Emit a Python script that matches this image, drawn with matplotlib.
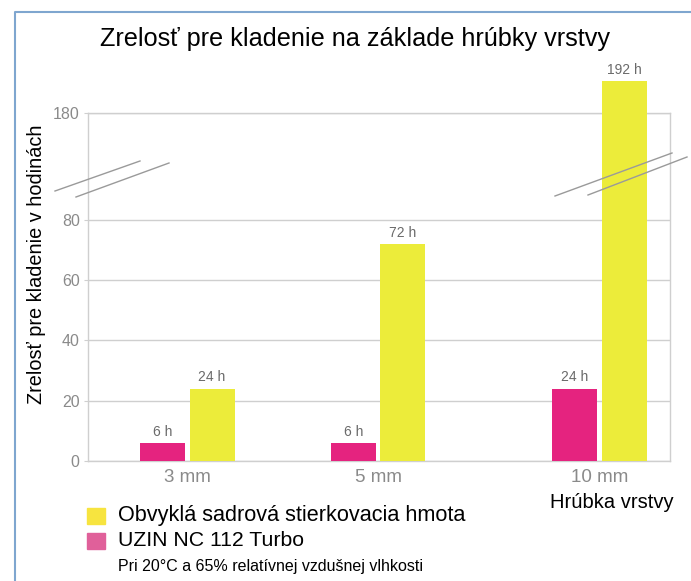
import numpy as np
import matplotlib.pyplot as plt
from matplotlib.patches import Rectangle

plt.rcParams['font.family'] = ['Liberation Sans', 'DejaVu Sans']

# data
categories = ["3 mm", "5 mm", "10 mm"]
uzin_hours = [6, 6, 24]
common_hours = [24, 72, 192]
yticks = [0, 20, 40, 60, 80, 180]

GRAY = "#8a8a8a"
GRID = "#cfcfcf"
YELLOW = "#ecec3a"
MAGENTA = "#e5237f"


# broken axis: 0-80 linear, 80-180 squeezed, above 180 a bit compressed
def fwd(v):
    v = np.asarray(v, dtype=float)
    return np.where(v <= 80, v,
                    np.where(v <= 180, 80 + (v - 80) * 0.353,
                             115.3 + (v - 180) * 0.89))


def inv(d):
    d = np.asarray(d, dtype=float)
    return np.where(d <= 80, d,
                    np.where(d <= 115.3, 80 + (d - 80) / 0.353,
                             180 + (d - 115.3) / 0.89))


fig = plt.figure(figsize=(6.91, 5.81), dpi=100)
ax = fig.add_axes([88 / 691, 120 / 581, 582 / 691, 348 / 581])
ax.set_yscale('function', functions=(fwd, inv))
ax.set_ylim(0, 180)

x = np.array([0, 1, 2.16])
w = 0.236
b1 = ax.bar(x - 0.13, uzin_hours, w, color=MAGENTA, clip_on=False, zorder=3)
b2 = ax.bar(x + 0.13, common_hours, w, color=YELLOW, clip_on=False, zorder=3)
ax.set_xlim(-0.52, 2.53)

for bars, vals in [(b1, uzin_hours), (b2, common_hours)]:
    for r, v in zip(bars, vals):
        ax.annotate(f"{v} h", (r.get_x() + r.get_width() / 2, v),
                    xytext=(0, 3), textcoords="offset points",
                    ha="center", va="bottom", fontsize=10, color="#6a6a6a",
                    annotation_clip=False)

ax.set_yticks(yticks)
ax.set_yticklabels([str(t) for t in yticks])
ax.set_xticks(x)
ax.set_xticklabels(categories)
ax.tick_params(axis='both', colors=GRAY, length=3, width=0.8)
ax.tick_params(axis='y', labelsize=11.5, color=GRID, pad=3)
ax.tick_params(axis='x', labelsize=13.5, length=0, pad=6)
ax.yaxis.grid(True, color=GRID, linewidth=1)
ax.set_axisbelow(True)
for s in ax.spines.values():
    s.set_color(GRID)
    s.set_linewidth(1)

ax.set_ylabel("Zrelosť pre kladenie v hodinách", fontsize=14.3)
ax.yaxis.set_label_coords(-0.072, 0.566)
fig.text(674 / 691, 1 - 502 / 581, "Hrúbka vrstvy", fontsize=14.5,
         ha="right", va="center")
fig.text(355 / 691, 1 - 39 / 581,
         "Zrelosť pre kladenie na základe hrúbky vrstvy",
         fontsize=18.2, ha="center", va="center")

# break marks
H, W = 581, 691
for (x0, y0, x1, y1) in [(55, 191, 140, 161), (76, 197, 169, 163),
                         (555, 196, 672, 153), (588, 195, 687, 157)]:
    fig.add_artist(plt.Line2D([x0 / W, x1 / W], [1 - y0 / H, 1 - y1 / H],
                              color="#9a9a9a", linewidth=1))

# legend
for (yc, col, label, fs) in [(516, "#f7e43f", "Obvyklá sadrová stierkovacia hmota", 15.6),
                            (541, "#e0609a", "UZIN NC 112 Turbo", 15.3)]:
    fig.add_artist(Rectangle((87 / W, 1 - (yc + 8) / H), 18 / W, 16 / H,
                             color=col, transform=fig.transFigure))
    fig.text(118 / W, 1 - yc / H, label, fontsize=fs, va="center")
fig.text(118 / W, 1 - 566 / H, "Pri 20°C a 65% relatívnej vzdušnej vlhkosti",
         fontsize=11.5, va="center")

# outer frame
fig.add_artist(plt.Line2D([15 / W, 15 / W, 1], [0, 1 - 12 / H, 1 - 12 / H],
                          color="#7fa6cf", linewidth=1.5))

fig.savefig("out.png", dpi=100)
